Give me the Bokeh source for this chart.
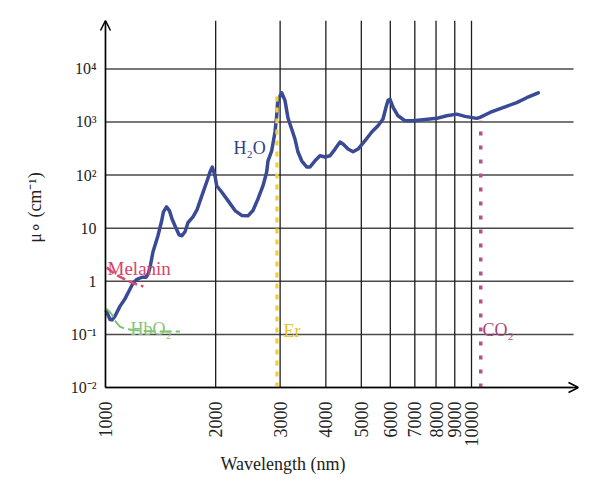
import math
from bokeh.plotting import figure
from bokeh.models import Range1d, FixedTicker, Arrow, OpenHead, Label, AllLabels, Title
from bokeh.embed import file_html
from bokeh.resources import INLINE

# ---------------- data ----------------
h2o_wavelength = [1006, 1029, 1042, 1062, 1095, 1131, 1167, 1189, 1219, 1258, 1290, 1311,
                  1327, 1348, 1391, 1422, 1440, 1468, 1496, 1519, 1548, 1588, 1618, 1649,
                  1680, 1734, 1778, 1833, 1890, 1930, 1958, 1992, 2013, 2077, 2161, 2259,
                  2356, 2451, 2529, 2610, 2694, 2757, 2780, 2845, 2905, 2936, 2951, 2998,
                  3030, 3093, 3152, 3226, 3294, 3357, 3436, 3546, 3620, 3736, 3855, 3978,
                  4106, 4238, 4373, 4457, 4599, 4746, 4898, 5118, 5339, 5554, 5731, 5840,
                  5914, 5989, 6103, 6298, 6582, 6921, 7369, 8034, 8555, 9111, 9600, 10332,
                  10549, 11235, 12190, 13290, 14150, 15220]
h2o_mua = [0.273, 0.191, 0.1875, 0.2215, 0.337, 0.471, 0.715, 0.920, 1.092, 1.192, 1.192, 1.42,
           2.02, 3.57, 7.20, 13.2, 20.3, 25.2, 21.2, 15.1, 11.1, 7.52, 7.20, 8.58,
           12.7, 16.4, 22.2, 40.5, 74.0, 114, 142, 95.8, 63.1, 48.1, 33.1, 21.5,
           17.4, 17.1, 21.5, 35.6, 63.1, 114, 186, 287, 648, 1308, 2248, 3095,
           3548, 2555, 1186, 738, 478, 272, 186, 142, 142, 186, 231, 219,
           231, 309, 419, 385, 309, 275, 309, 444, 648, 852, 1137, 1896,
           2555, 2666, 1896, 1308, 1057, 1057, 1103, 1171, 1308, 1406, 1275, 1171,
           1222, 1512, 1872, 2316, 2867, 3548]

melanin_wavelength = [1008, 1062, 1131, 1191, 1269]
melanin_mua = [1.82, 1.36, 1.09, 0.92, 0.80]

hbo2_wavelength = [1000, 1016, 1040, 1062, 1095, 1137, 1191, 1282, 1382, 1597]
hbo2_mua = [0.310, 0.285, 0.241, 0.180, 0.140, 0.126, 0.121, 0.116, 0.113, 0.113]

er_wavelength = [2940, 2940]
er_mua = [0.01, 3700]
co2_wavelength = [10600, 10600]
co2_mua = [0.01, 1050]

x_ticks = [1000, 2000, 3000, 4000, 5000, 6000, 7000, 8000, 9000, 10000]
x_tick_labels = ["1000", "2000", "3000", "4000", "5000", "6000", "7000", "8000", "9000", "10000"]
y_ticks = [0.01, 0.1, 1, 10, 100, 1000, 10000]
y_tick_labels = ["10\u207b\u00b2", "10\u207b\u00b9", "1", "10", "10\u00b2", "10\u00b3", "10\u2074"]

# axis origin / extents (data units)
x_origin, y_origin = 1000, 0.01
x_lo, x_hi = 957.0, 19603
y_lo, y_hi = 0.007383, 81550
grid_x_end = 19000

FONT = "Liberation Serif"

p = figure(width=590, height=490, x_axis_type="log", y_axis_type="log",
           x_range=Range1d(x_lo, x_hi), y_range=Range1d(y_lo, y_hi),
           output_backend="svg", toolbar_location=None,
           min_border_left=98, min_border_right=12, min_border_top=20, min_border_bottom=96)
p.outline_line_color = None
p.background_fill_color = "white"
p.border_fill_color = "white"
p.xgrid.visible = False
p.ygrid.visible = False

# axes (lines drawn as arrows below)
p.xaxis.ticker = FixedTicker(ticks=x_ticks)
p.yaxis.ticker = FixedTicker(ticks=y_ticks)
p.xaxis.major_label_overrides = {t: s for t, s in zip(x_ticks, x_tick_labels)}
p.yaxis.major_label_overrides = {t: s for t, s in zip(y_ticks, y_tick_labels)}
for ax in (p.xaxis, p.yaxis):
    ax.major_label_policy = AllLabels()
    ax.major_tick_line_color = None
    ax.minor_tick_line_color = None
    ax.axis_line_color = None
    ax.major_label_text_font = FONT
    ax.major_label_text_color = "#222222"
    ax.axis_label_text_font = FONT
    ax.axis_label_text_font_style = "normal"
    ax.axis_label_text_color = "#222222"
    ax.axis_label_text_font_size = "18px"
p.yaxis.bounds = (0.0099, 12640)
p.xaxis.major_label_orientation = math.pi / 2
p.xaxis.major_label_text_font_size = "18px"
p.xaxis.major_label_standoff = 1
p.yaxis.major_label_text_font_size = "16px"
p.yaxis.major_label_standoff = -4
p.yaxis.axis_label = "\u03bc\u2218 (cm\u207b\u00b9)"
p.yaxis.axis_label_standoff = 23

# x axis title (placed left of centre, as in the original)
p.add_layout(Title(text="Wavelength (nm)", align="left", offset=122, vertical_align="top",
                   standoff=8, text_font=FONT, text_font_size="18px",
                   text_font_style="normal", text_color="#222222"), "below")

# grid lines
p.segment(x0=[x_origin] * len(y_ticks), y0=y_ticks, x1=[grid_x_end] * len(y_ticks), y1=y_ticks,
          line_color="#4a4a4a", line_width=1.5)
p.segment(x0=x_ticks, y0=[y_origin] * len(x_ticks), x1=x_ticks, y1=[y_hi] * len(x_ticks),
          line_color="#1e1e1e", line_width=1.3)

# curves
p.line(h2o_wavelength, h2o_mua, line_color="#3a4a94", line_width=3.5,
       line_join="round", line_cap="round")
p.line(melanin_wavelength, melanin_mua, line_color="#dc4a6e", line_width=2.5, line_dash="9 4")
p.line(hbo2_wavelength, hbo2_mua, line_color="#7cc46f", line_width=2, line_dash="12 4")
p.line(er_wavelength, er_mua, line_color="#f2d034", line_width=3.2, line_dash="5 6")
p.line(co2_wavelength, co2_mua, line_color="#b5528a", line_width=3.5, line_dash="4 10")

# axis arrows
p.add_layout(Arrow(end=OpenHead(size=10, line_width=1.5, line_color="black"),
                   x_start=x_origin, y_start=y_origin, x_end=x_hi, y_end=y_origin,
                   line_width=1.5, line_color="black"))
p.add_layout(Arrow(end=OpenHead(size=10, line_width=1.5, line_color="black"),
                   x_start=x_origin, y_start=y_origin, x_end=x_origin, y_end=y_hi,
                   line_width=1.5, line_color="black"))

# text labels
def add_label(x, y, text, color, size="18px", **kw):
    p.add_layout(Label(x=x, y=y, text=text, text_color=color, text_font=FONT,
                       text_font_size=size, text_baseline="alphabetic", **kw))

add_label(2238, 317, "H\u2082O", "#2f3f86")
add_label(1013, 1.74, "Melanin", "#d9436b", size="19px")
add_label(1170, 0.129, "HbO\u2082", "#86c47a")
add_label(3064, 0.118, "Er", "#e8c22a")
add_label(10716, 0.121, "CO\u2082", "#a9487f")

open("out.html", "w").write(file_html(p, INLINE))
